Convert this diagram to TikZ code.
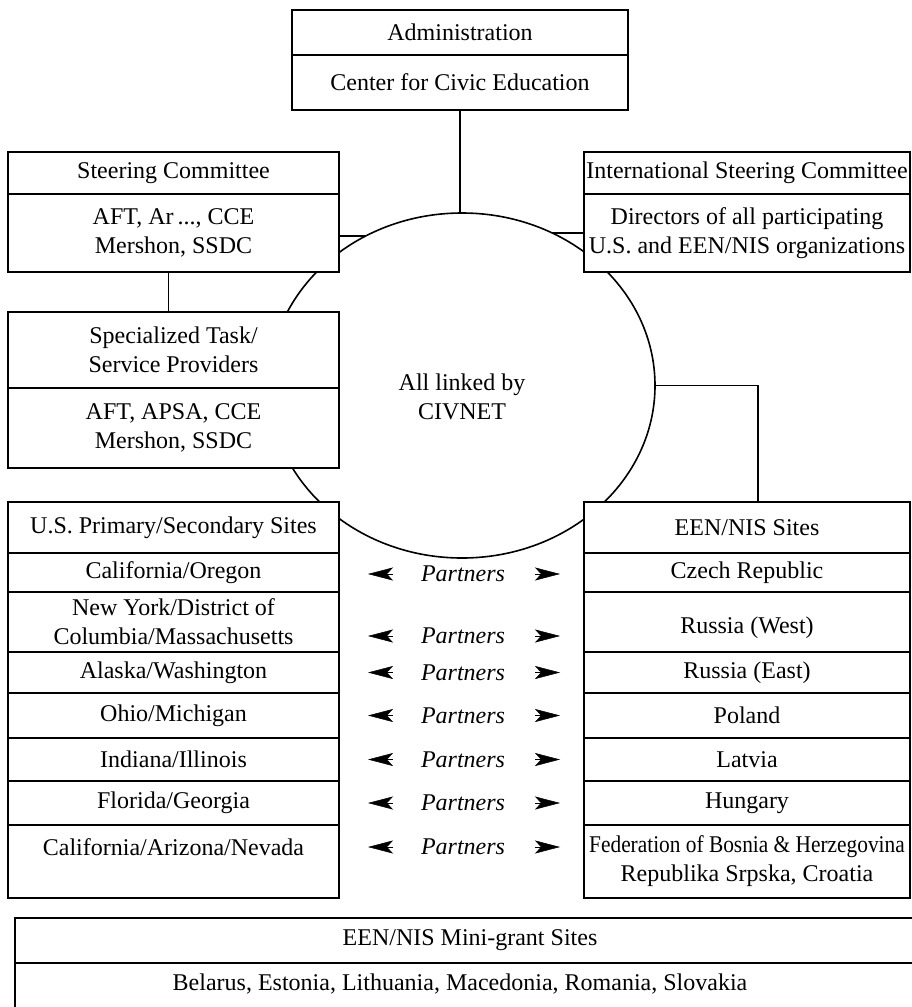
\documentclass[tikz,border=0pt]{standalone}
\usepackage{fontspec}
\setmainfont{Liberation Serif}
\usepackage{graphicx}
\usetikzlibrary{shapes.geometric,arrows.meta,calc}
\begin{document}
\begin{tikzpicture}[x=1pt,y=-1pt,
  every node/.style={font=\fontsize{24}{29}\selectfont, align=center},
  cell/.style={draw, fill=white, line width=1.6pt, inner sep=0pt, align=center},
  ln/.style={line width=1.6pt},
  partner/.style={font=\fontsize{24}{29}\selectfont\itshape},
  parrow/.style={-{Stealth[length=25pt,width=13pt,inset=6pt]}, line width=0.5pt}]
\useasboundingbox (0,0) rectangle (911,1007);
% central ellipse
\node[ellipse, draw, line width=1.6pt, minimum width=386pt, minimum height=345pt, inner sep=0pt] (civ) at (462,385.5) {};
\node (civtxt) at (462,397) {All linked by\\CIVNET};
% administration
\node[cell, minimum width=336pt, minimum height=45pt] (a0) at (460,32.5) {Administration};
\node[cell, minimum width=336pt, minimum height=55pt] (a1) at (460,82.5) {Center for Civic Education};
% steering committee
\node[cell, minimum width=331pt, minimum height=42pt] (s0) at (173.5,173) {Steering Committee};
\node[cell, minimum width=331pt, minimum height=78pt] (s1) at (173.5,233) {AFT, Ar\,..., CCE\\Mershon, SSDC};
% international steering committee
\node[cell, minimum width=326pt, minimum height=42pt] (i0) at (747,173) {International Steering Committee};
\node[cell, minimum width=326pt, minimum height=78pt] (i1) at (747,233) {Directors of all participating\\U.S. and EEN/NIS organizations};
% specialized
\node[cell, minimum width=331pt, minimum height=76pt] (t0) at (173.5,350) {Specialized Task/\\Service Providers};
\node[cell, minimum width=331pt, minimum height=80pt] (t1) at (173.5,428) {AFT, APSA, CCE\\Mershon, SSDC};
% US sites
\node[cell, minimum width=331pt, minimum height=51pt] (u0) at (173.5,527.5) {U.S. Primary/Secondary Sites};
\node[cell, minimum width=331pt, minimum height=39pt] (u1) at (173.5,572.5) {California/Oregon};
\node[cell, minimum width=331pt, minimum height=60pt] (u2) at (173.5,622) {New York/District of\\Columbia/Massachusetts};
\node[cell, minimum width=331pt, minimum height=41pt] (u3) at (173.5,672.5) {Alaska/Washington};
\node[cell, minimum width=331pt, minimum height=45pt] (u4) at (173.5,715.5) {Ohio/Michigan};
\node[cell, minimum width=331pt, minimum height=43pt] (u5) at (173.5,759.5) {Indiana/Illinois};
\node[cell, minimum width=331pt, minimum height=44pt] (u6) at (173.5,803) {Florida/Georgia};
\node[cell, minimum width=331pt, minimum height=73pt] (u7) at (173.5,861.5) {California/Arizona/Nevada\\\mbox{}};
% EEN/NIS sites
\node[cell, minimum width=326pt, minimum height=51pt] (e0) at (747,527.5) {EEN/NIS Sites};
\node[cell, minimum width=326pt, minimum height=39pt] (e1) at (747,572.5) {Czech Republic};
\node[cell, minimum width=326pt, minimum height=60pt] (e2) at (747,622) {\mbox{}\\Russia (West)};
\node[cell, minimum width=326pt, minimum height=41pt] (e3) at (747,672.5) {Russia (East)};
\node[cell, minimum width=326pt, minimum height=45pt] (e4) at (747,715.5) {Poland};
\node[cell, minimum width=326pt, minimum height=43pt] (e5) at (747,759.5) {Latvia};
\node[cell, minimum width=326pt, minimum height=44pt] (e6) at (747,803) {Hungary};
\node[cell, minimum width=326pt, minimum height=73pt] (e7) at (747,861.5) {\scalebox{0.89}[1]{Federation of Bosnia \& Herzegovina}\\Republika Srpska, Croatia};
% partners
\foreach \i/\y in {1/574, 2/636, 3/672.5, 4/715.5, 5/759.5, 6/803, 7/847} {
  \node[partner] (p\i) at (463,\y) {Partners};
  \draw[parrow] ([xshift=-70pt]p\i.center) -- ([xshift=-95pt]p\i.center);
  \draw[parrow] ([xshift=72pt]p\i.center) -- ([xshift=97pt]p\i.center);
}
% mini-grant sites
\node[cell, minimum width=910pt, minimum height=45pt] (m0) at (470,940.5) {EEN/NIS Mini-grant Sites};
\node[cell, minimum width=910pt, minimum height=64pt] (m1) at (470,995) {};
\node (m1t) at (460,984) {Belarus, Estonia, Lithuania, Macedonia, Romania, Slovakia};
% connectors
\draw[ln] (a1.south) -- (a1.south |- civ.north);
\coordinate (sj) at (366,236);
\draw[ln] (s1.east |- sj) -- (sj);
\coordinate (ij) at (552,233);
\draw[ln] (ij) -- (i1.west |- ij);
\draw[ln] ([xshift=-5pt]s1.south) -- ([xshift=-5pt]t0.north);
\draw[ln] (civ.east) -| ([xshift=11pt]e0.north);
\end{tikzpicture}
\end{document}
